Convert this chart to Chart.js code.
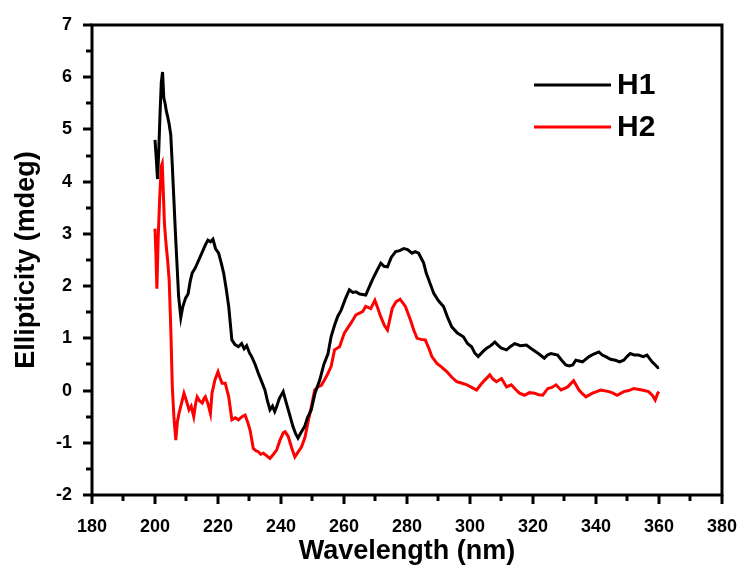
<!DOCTYPE html>
<html>
<head>
<meta charset="utf-8">
<script src="https://cdn.jsdelivr.net/npm/chart.js@4/dist/chart.umd.min.js"></script>
<style>
html,body{margin:0;padding:0;background:#fff;}
#wrap{width:750px;height:570px;}
</style>
</head>
<body>
<div id="wrap"><canvas id="c" width="750" height="570"></canvas></div>
<script>
const seriesNames = ["H1", "H2"];
const seriesColors = ["#000000", "#ff0000"];
const xTitle = "Wavelength (nm)";
const yTitle = "Ellipticity (mdeg)";
const xMin = 180, xMax = 380, xStep = 10, xLabelStep = 20;
const yMin = -2, yMax = 7, yStep = 0.5, yLabelStep = 1;

const wlH1 = [200.0,200.4,200.8,201.2,201.6,202.0,202.4,202.8,203.2,203.6,204.0,204.5,205.0,205.5,206.0,206.5,207.0,207.5,208.2,208.8,209.7,210.5,211.2,211.8,212.8,213.9,215.0,216.0,216.8,217.6,218.4,219.2,220.2,221.0,221.8,222.6,223.4,224.4,225.4,226.5,227.5,228.3,229.1,230.0,230.7,231.8,232.8,233.8,234.9,235.7,236.5,237.3,238.0,238.6,239.5,240.7,241.7,242.7,243.8,244.6,245.4,246.4,247.5,248.4,249.6,250.8,252.3,253.6,254.9,255.9,257.0,258.0,259.1,260.4,261.7,262.8,263.8,265.0,266.9,268.0,269.0,270.5,271.7,272.7,273.8,275.0,276.4,277.7,279.0,280.2,281.6,282.6,283.7,285.3,286.1,286.9,288.5,290.0,291.6,292.9,294.2,296.0,297.9,299.2,300.5,301.5,302.6,304.0,305.3,306.6,307.9,309.0,310.0,311.6,313.0,314.2,316.0,317.9,319.5,321.0,322.3,323.6,324.6,325.7,327.8,329.1,330.4,331.5,332.6,333.6,335.7,337.8,339.3,340.9,342.0,343.1,344.6,346.2,347.5,348.8,350.0,350.9,352.2,353.5,355.0,356.2,357.8,359.0,359.6,360.0];
const valH1 = [4.80,4.45,4.05,4.60,5.30,5.90,6.10,5.60,5.50,5.35,5.25,5.10,4.90,4.30,3.65,3.00,2.40,1.80,1.40,1.60,1.77,1.85,2.10,2.25,2.35,2.50,2.65,2.79,2.88,2.85,2.90,2.72,2.63,2.45,2.25,1.95,1.61,0.97,0.88,0.84,0.90,0.80,0.86,0.72,0.65,0.50,0.33,0.18,0.01,-0.20,-0.37,-0.30,-0.40,-0.31,-0.15,-0.02,-0.24,-0.45,-0.69,-0.82,-0.91,-0.80,-0.69,-0.52,-0.37,-0.05,0.20,0.50,0.70,1.03,1.25,1.42,1.54,1.75,1.93,1.88,1.89,1.85,1.83,1.98,2.12,2.30,2.44,2.38,2.37,2.55,2.66,2.68,2.72,2.70,2.63,2.66,2.63,2.44,2.25,2.12,1.86,1.72,1.61,1.40,1.22,1.10,1.03,0.90,0.84,0.72,0.65,0.74,0.81,0.86,0.93,0.86,0.81,0.78,0.85,0.90,0.86,0.87,0.80,0.74,0.68,0.62,0.68,0.71,0.68,0.58,0.49,0.47,0.49,0.58,0.55,0.65,0.70,0.74,0.68,0.65,0.60,0.58,0.55,0.58,0.66,0.71,0.68,0.68,0.65,0.68,0.55,0.48,0.44,0.45];

const wlH2 = [200.0,200.3,200.6,201.0,201.5,202.0,202.3,202.7,203.0,203.4,204.0,204.5,205.0,205.5,206.0,206.6,207.1,207.6,208.4,209.2,210.0,210.8,211.5,212.3,212.9,213.4,214.2,215.0,215.6,216.0,216.8,217.6,218.1,219.0,220.0,220.6,221.3,222.3,223.4,224.4,225.5,226.5,227.6,228.6,229.4,230.2,231.2,232.0,232.8,233.6,234.4,235.5,236.5,237.6,238.6,239.7,240.7,241.3,242.3,243.4,244.4,245.4,246.5,247.6,248.6,249.5,250.7,251.7,252.8,253.8,254.9,255.9,257.0,258.6,260.1,261.2,262.2,263.8,265.9,266.9,268.5,269.8,270.7,271.7,272.8,273.8,275.3,276.5,277.8,279.5,281.1,282.2,283.2,284.5,285.8,287.0,287.9,289.5,291.0,292.7,294.3,295.8,297.5,299.0,300.5,302.1,303.5,304.7,306.3,307.3,308.4,310.0,311.6,313.1,314.5,315.7,317.3,318.9,320.5,321.8,323.1,324.7,326.0,327.3,328.9,331.0,332.9,334.6,335.7,336.8,338.9,340.2,341.5,344.1,345.4,346.7,348.8,350.4,352.0,354.6,356.7,358.0,358.8,359.6,360.0];
const valH2 = [3.10,2.60,1.95,2.90,3.70,4.30,4.35,3.70,3.20,2.88,2.50,2.12,1.22,0.07,-0.50,-0.95,-0.60,-0.44,-0.25,-0.05,-0.20,-0.37,-0.30,-0.50,-0.25,-0.12,-0.20,-0.24,-0.15,-0.12,-0.25,-0.44,-0.05,0.20,0.36,0.25,0.14,0.14,-0.12,-0.56,-0.52,-0.56,-0.50,-0.47,-0.60,-0.76,-1.11,-1.15,-1.17,-1.22,-1.20,-1.25,-1.30,-1.22,-1.14,-0.95,-0.81,-0.79,-0.88,-1.10,-1.27,-1.18,-1.08,-0.90,-0.60,-0.35,0.01,0.07,0.10,0.20,0.33,0.46,0.78,0.84,1.10,1.20,1.29,1.45,1.51,1.61,1.57,1.73,1.58,1.41,1.25,1.16,1.57,1.70,1.75,1.61,1.35,1.15,1.00,0.98,0.97,0.80,0.65,0.52,0.45,0.36,0.25,0.17,0.14,0.11,0.06,0.01,0.12,0.20,0.30,0.22,0.17,0.23,0.07,0.11,0.02,-0.05,-0.09,-0.04,-0.05,-0.08,-0.09,0.04,0.06,0.11,0.01,0.07,0.19,0.01,-0.06,-0.12,-0.05,-0.02,0.01,-0.02,-0.05,-0.09,-0.02,0.00,0.04,0.01,-0.02,-0.10,-0.18,-0.05,-0.02];

const toPts = (xs, ys) => xs.map((x, i) => ({x: x, y: ys[i]}));
const FONT = "'Liberation Sans', Arial, sans-serif";

const framePlugin = {
  id: 'frame',
  afterDraw(chart) {
    const ctx = chart.ctx;
    const a = chart.chartArea;
    const sx = chart.scales.x, sy = chart.scales.y;
    ctx.save();
    ctx.strokeStyle = '#000';
    ctx.lineWidth = 3;
    ctx.lineCap = 'butt';
    sx.ticks.forEach(t => {
      const px = Math.round(sx.getPixelForValue(t.value));
      const major = Math.abs(t.value % xLabelStep) < 1e-6;
      const len = major ? 9 : 6;
      ctx.beginPath();
      ctx.moveTo(px, a.bottom);
      ctx.lineTo(px, a.bottom + len);
      ctx.stroke();
    });
    sy.ticks.forEach(t => {
      const py = Math.round(sy.getPixelForValue(t.value));
      const major = Math.abs(t.value - Math.round(t.value)) < 1e-6;
      const len = major ? 9 : 6;
      ctx.beginPath();
      ctx.moveTo(a.left, py);
      ctx.lineTo(a.left - len, py);
      ctx.stroke();
    });
    ctx.strokeRect(a.left, a.top, a.right - a.left, a.bottom - a.top);
    const lx0 = 534, lx1 = 611;
    const ly = [85, 127];
    chart.data.datasets.forEach((ds, i) => {
      ctx.strokeStyle = ds.borderColor;
      ctx.lineWidth = 3;
      ctx.beginPath();
      ctx.moveTo(lx0, ly[i]);
      ctx.lineTo(lx1, ly[i]);
      ctx.stroke();
      ctx.fillStyle = '#000';
      ctx.font = 'bold 30px ' + FONT;
      ctx.textBaseline = 'middle';
      ctx.textAlign = 'left';
      ctx.fillText(ds.label, 617, ly[i] + 1);
    });
    ctx.restore();
  }
};

new Chart(document.getElementById('c'), {
  type: 'line',
  data: {
    datasets: [
      {label: seriesNames[0], data: toPts(wlH1, valH1), borderColor: seriesColors[0], borderWidth: 3, pointRadius: 0, tension: 0, fill: false},
      {label: seriesNames[1], data: toPts(wlH2, valH2), borderColor: seriesColors[1], borderWidth: 3, pointRadius: 0, tension: 0, fill: false}
    ]
  },
  options: {
    responsive: false,
    animation: false,
    devicePixelRatio: 1,
    layout: {padding: {top: 25, right: 23, left: 0, bottom: 0}},
    plugins: {legend: {display: false}, tooltip: {enabled: false}},
    scales: {
      x: {
        type: 'linear', min: xMin, max: xMax,
        grid: {display: false},
        border: {display: false},
        ticks: {
          stepSize: xStep, autoSkip: false, maxRotation: 0, padding: 13, color: '#000',
          font: {family: FONT, size: 18, weight: 'bold'},
          callback: v => (Math.abs(v % xLabelStep) < 1e-6 ? String(v) : '')
        },
        title: {display: true, text: xTitle, color: '#000', font: {family: FONT, size: 27, weight: 'bold'}, padding: {top: 0, bottom: 2}},
        afterFit(s) { s.height = 75; }
      },
      y: {
        type: 'linear', min: yMin, max: yMax,
        grid: {display: false},
        border: {display: false},
        ticks: {
          stepSize: yStep, autoSkip: false, padding: 12, color: '#000',
          font: {family: FONT, size: 18, weight: 'bold'},
          callback: v => (Math.abs(v - Math.round(v)) < 1e-6 ? String(v) : '')
        },
        title: {display: true, text: yTitle, color: '#000', font: {family: FONT, size: 27, weight: 'bold'}, padding: {top: 10, bottom: 0}},
        afterFit(s) { s.width = 92; }
      }
    }
  },
  plugins: [framePlugin]
});
</script>
</body>
</html>
